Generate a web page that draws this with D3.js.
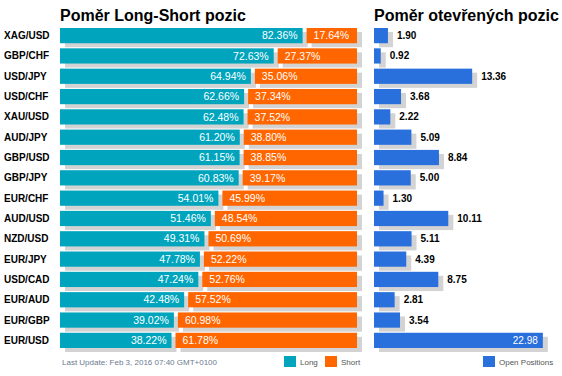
<!DOCTYPE html>
<html>
<head>
<meta charset="utf-8">
<script src="https://cdn.jsdelivr.net/npm/d3@7"></script>
<style>
  body { margin: 0; background: #fff; }
  text { font-family: Arial, "Liberation Sans", sans-serif; }
</style>
</head>
<body>
<div id="chart"></div>
<script>
const pairs = ["XAG/USD", "GBP/CHF", "USD/JPY", "USD/CHF", "XAU/USD", "AUD/JPY", "GBP/USD", "GBP/JPY",
               "EUR/CHF", "AUD/USD", "NZD/USD", "EUR/JPY", "USD/CAD", "EUR/AUD", "EUR/GBP", "EUR/USD"];
const longPct = [82.36, 72.63, 64.94, 62.66, 62.48, 61.20, 61.15, 60.83, 54.01, 51.46, 49.31, 47.78, 47.24, 42.48, 39.02, 38.22];
const shortPct = [17.64, 27.37, 35.06, 37.34, 37.52, 38.80, 38.85, 39.17, 45.99, 48.54, 50.69, 52.22, 52.76, 57.52, 60.98, 61.78];
const openPos = [1.90, 0.92, 13.36, 3.68, 2.22, 5.09, 8.84, 5.00, 1.30, 10.11, 5.11, 4.39, 8.75, 2.81, 3.54, 22.98];

const width = 562, height = 376;
const teal = "#00a5bd", orange = "#ff6600", blue = "#2a70dc", shadow = "#d3d3d3";

const rows = pairs.map((p, i) => ({ pair: p, long: longPct[i], short: shortPct[i], open: openPos[i] }));

const svg = d3.select("#chart").append("svg")
    .attr("width", width)
    .attr("height", height);

const y = d3.scaleBand()
    .domain(pairs)
    .range([28, 348])
    .paddingInner(0.25)
    .paddingOuter(0);

const xL = d3.scaleLinear().domain([0, 100]).range([60, 357]);
const xR = d3.scaleLinear().domain([0, 23]).range([374, 543]);
const gap = 2, sh = { dx: 5, dy: 4 };

// titles
svg.append("text").attr("x", 60).attr("y", 21)
    .style("font-size", "16px").style("font-weight", "bold").attr("fill", "#000")
    .text("Poměr Long-Short pozic");
svg.append("text").attr("x", 374).attr("y", 21)
    .style("font-size", "16px").style("font-weight", "bold").attr("fill", "#000")
    .text("Poměr otevřených pozic");

// left chart
const row = svg.append("g").selectAll("g")
    .data(rows)
    .join("g")
    .attr("transform", d => `translate(0,${y(d.pair)})`);

row.append("text")
    .attr("x", 4)
    .attr("y", y.bandwidth() / 2)
    .attr("dy", "0.35em")
    .style("font-size", "10px").style("font-weight", "bold")
    .attr("fill", "#000")
    .text(d => d.pair);

// shadows
row.append("rect")
    .attr("x", xL(0) + sh.dx)
    .attr("y", sh.dy)
    .attr("width", d => xL(d.long) - gap - xL(0))
    .attr("height", y.bandwidth())
    .attr("fill", shadow);
row.append("rect")
    .attr("x", d => xL(d.long) + gap + sh.dx)
    .attr("y", sh.dy)
    .attr("width", d => xL(100) - xL(d.long) - gap)
    .attr("height", y.bandwidth())
    .attr("fill", shadow);

row.append("rect")
    .attr("x", xL(0))
    .attr("width", d => xL(d.long) - gap - xL(0))
    .attr("height", y.bandwidth())
    .attr("fill", teal);
row.append("rect")
    .attr("x", d => xL(d.long) + gap)
    .attr("width", d => xL(100) - xL(d.long) - gap)
    .attr("height", y.bandwidth())
    .attr("fill", orange);

row.append("text")
    .attr("x", d => xL(d.long) - gap - 5)
    .attr("y", y.bandwidth() / 2)
    .attr("dy", "0.35em")
    .attr("text-anchor", "end")
    .style("font-size", "10.5px")
    .attr("fill", "#fff")
    .text(d => d.long.toFixed(2) + "%");
row.append("text")
    .attr("x", d => xL(d.long) + gap + 7)
    .attr("y", y.bandwidth() / 2)
    .attr("dy", "0.35em")
    .style("font-size", "10.5px")
    .attr("fill", "#fff")
    .text(d => d.short.toFixed(2) + "%");

// right chart
row.append("rect")
    .attr("x", xR(0) + sh.dx)
    .attr("y", sh.dy)
    .attr("width", d => xR(d.open) - xR(0))
    .attr("height", y.bandwidth())
    .attr("fill", shadow);
row.append("rect")
    .attr("x", xR(0))
    .attr("width", d => xR(d.open) - xR(0))
    .attr("height", y.bandwidth())
    .attr("fill", blue);

row.append("text")
    .attr("x", d => xR(d.open) > 500 ? xR(d.open) - 5 : xR(d.open) + 9)
    .attr("y", y.bandwidth() / 2)
    .attr("dy", "0.35em")
    .attr("text-anchor", d => xR(d.open) > 500 ? "end" : "start")
    .style("font-size", "10px")
    .style("font-weight", d => xR(d.open) > 500 ? "normal" : "bold")
    .attr("fill", d => xR(d.open) > 500 ? "#fff" : "#000")
    .text(d => d.open.toFixed(2));

// footer
svg.append("text").attr("x", 62).attr("y", 365)
    .style("font-size", "8px").attr("fill", "#6b7a90")
    .text("Last Update: Feb 3, 2016 07:40 GMT+0100");

const legend = [
    { label: "Long", color: teal, x: 284 },
    { label: "Short", color: orange, x: 325 },
    { label: "Open Positions", color: blue, x: 483 }
];
const lg = svg.append("g").selectAll("g")
    .data(legend)
    .join("g")
    .attr("transform", d => `translate(${d.x},356)`);
lg.append("rect").attr("width", 12).attr("height", 11).attr("fill", d => d.color);
lg.append("text").attr("x", 16).attr("y", 9)
    .style("font-size", "8px").attr("fill", "#555")
    .text(d => d.label);
</script>
</body>
</html>
